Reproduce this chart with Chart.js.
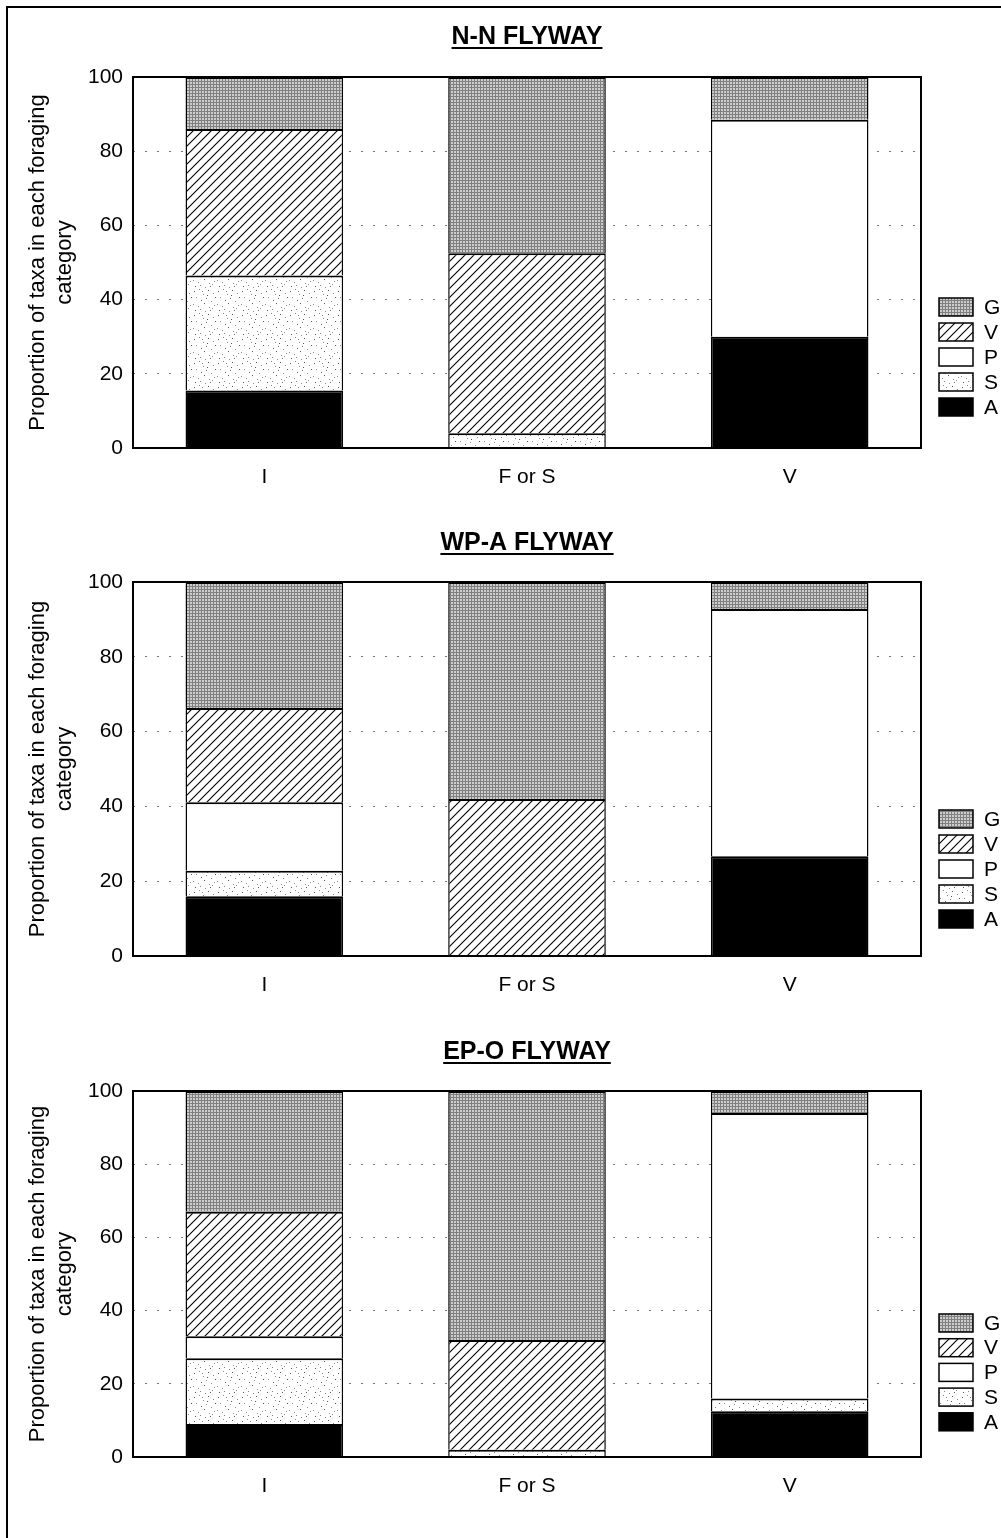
<!DOCTYPE html>
<html>
<head>
<meta charset="utf-8">
<script src="https://cdn.jsdelivr.net/npm/chart.js@4.4.0/dist/chart.umd.min.js"></script>
<style>
  body { margin: 0; background: #fff; }
  #page { position: relative; width: 1001px; height: 1538px; overflow: hidden; }
  #frame { position: absolute; left: 6px; top: 6px; width: 1010px; height: 1560px;
           border-top: 2px solid #000; border-left: 2px solid #000; }
  canvas { position: absolute; left: 0; }
</style>
</head>
<body>
<div id="page">
  <div id="frame"></div>
  <canvas id="nn" width="1001" height="505" style="top:0px"></canvas>
  <canvas id="wpa" width="1001" height="505" style="top:505px"></canvas>
  <canvas id="epo" width="1001" height="528" style="top:1010px"></canvas>
</div>
<script>
// foraging categories on the x axis
var categories = ['I', 'F or S', 'V'];
var yTicks = [0, 20, 40, 60, 80, 100];
var yTitle = ['Proportion of taxa in each foraging', 'category'];
// stacked bottom -> top
var seriesNames = ['A', 'S', 'P', 'V', 'G'];

// N-N flyway (% of taxa)
var nnA = [15.5, 0, 30];
var nnS = [31, 4, 0];
var nnP = [0, 0, 58.5];
var nnV = [39.5, 48.5, 0];
var nnG = [14, 47.5, 11.5];

// WP-A flyway
var wpaA = [16, 0, 26.7];
var wpaS = [6.8, 0, 0];
var wpaP = [18.3, 0, 66.1];
var wpaV = [25.2, 42, 0];
var wpaG = [33.7, 58, 7.2];

// EP-O flyway
var epoA = [9, 0, 12.5];
var epoS = [18, 2, 3.5];
var epoP = [6, 0, 78];
var epoV = [34, 30, 0];
var epoG = [33, 68, 6];

// ---- fill textures ----
function tile(w, h, draw) {
  var c = document.createElement('canvas');
  c.width = w; c.height = h;
  var g = c.getContext('2d');
  draw(g);
  return document.createElement('canvas').getContext('2d').createPattern(c, 'repeat');
}
var gFill = tile(3, 3, function (g) {
  g.fillStyle = '#cdcdcd'; g.fillRect(0, 0, 3, 3);
  g.fillStyle = '#808080'; g.fillRect(0, 0, 3, 1); g.fillRect(0, 0, 1, 3);
});
var vFill = tile(9, 9, function (g) {
  g.fillStyle = '#fff'; g.fillRect(0, 0, 9, 9);
  g.strokeStyle = '#000'; g.lineWidth = 1.1;
  g.beginPath();
  g.moveTo(0, 9); g.lineTo(9, 0);
  g.moveTo(-2, 2); g.lineTo(2, -2);
  g.moveTo(7, 11); g.lineTo(11, 7);
  g.stroke();
});
var speck = [[2,3],[7,1],[11,6],[16,2],[21,5],[4,9],[9,12],[14,10],[19,13],[23,9],[1,16],
             [6,18],[12,15],[17,19],[22,17],[3,22],[8,21],[13,23],[18,22],[10,3],[20,20],[15,7]];
var sFill = tile(24, 24, function (g) {
  g.fillStyle = '#fff'; g.fillRect(0, 0, 24, 24);
  speck.forEach(function (p, i) {
    g.fillStyle = i % 3 ? '#8a8a8a' : '#555';
    g.fillRect(p[0], p[1], 1, 1);
  });
});
var fills = { A: '#000', S: sFill, P: '#fff', V: vFill, G: gFill };

var FONT = '"Liberation Sans", Arial, sans-serif';

// title, frame round the plot, legend
var decor = {
  id: 'decor',
  afterDraw: function (chart, args, o) {
    var ctx = chart.ctx, a = chart.chartArea;
    ctx.save();
    ctx.strokeStyle = '#000';
    ctx.lineWidth = 2;
    ctx.strokeRect(a.left, a.top, a.right - a.left, a.bottom - a.top);

    ctx.fillStyle = '#000';
    ctx.font = 'bold 25px ' + FONT;
    ctx.textAlign = 'center';
    ctx.textBaseline = 'alphabetic';
    var cx = (a.left + a.right) / 2;
    ctx.fillText(o.title, cx, o.titleY);
    var w = ctx.measureText(o.title).width;
    ctx.fillRect(cx - w / 2, o.titleY + 3, w, 2);

    ctx.font = '21px ' + FONT;
    ctx.textAlign = 'left';
    ctx.textBaseline = 'middle';
    ctx.lineWidth = 1.5;
    var ds = chart.data.datasets.slice().reverse();
    ds.forEach(function (d, i) {
      var y = o.legendY + i * o.legendStep;
      ctx.fillStyle = d.backgroundColor;
      ctx.fillRect(939, y - 9, 34, 18);
      ctx.strokeRect(939, y - 9, 34, 18);
      ctx.fillStyle = '#000';
      ctx.fillText(d.label, 984, y + 1);
    });
    ctx.restore();
  }
};

function makeChart(id, title, series, pad, titleY, legendY, legendStep) {
  var datasets = seriesNames.map(function (name, i) {
    return {
      label: name,
      data: series[i],
      backgroundColor: fills[name],
      borderColor: '#000',
      borderWidth: { top: 2, left: 1.5, right: 1.5, bottom: 0 },
      borderSkipped: false,
      categoryPercentage: 1,
      barPercentage: 0.6
    };
  });
  return new Chart(document.getElementById(id), {
    type: 'bar',
    data: { labels: categories, datasets: datasets },
    plugins: [decor],
    options: {
      responsive: false,
      animation: false,
      layout: { padding: { top: pad[0], right: 80, bottom: pad[1], left: 0 } },
      plugins: {
        legend: { display: false },
        tooltip: { enabled: false },
        decor: { title: title, titleY: titleY, legendY: legendY, legendStep: legendStep }
      },
      scales: {
        x: {
          stacked: true,
          grid: { display: false },
          border: { display: false },
          ticks: { color: '#000', padding: 9, font: { family: FONT, size: 21 } },
          afterFit: function (s) { s.height = 40; }
        },
        y: {
          stacked: true,
          min: 0,
          max: 100,
          afterBuildTicks: function (s) { s.ticks = yTicks.map(function (v) { return { value: v }; }); },
          grid: { color: '#7a7a7a', lineWidth: 1, drawTicks: false },
          border: { display: false, dash: [2, 10] },
          ticks: { color: '#000', padding: 10, font: { family: FONT, size: 21 } },
          title: {
            display: true,
            text: yTitle,
            color: '#000',
            padding: { top: 25, bottom: 0 },
            font: { family: FONT, size: 22 }
          },
          afterFit: function (s) { s.width = 133; }
        }
      }
    }
  });
}

makeChart('nn', 'N-N FLYWAY', [nnA, nnS, nnP, nnV, nnG], [77, 17], 44, 307, 25);
makeChart('wpa', 'WP-A FLYWAY', [wpaA, wpaS, wpaP, wpaV, wpaG], [77, 14], 45, 314, 25);
makeChart('epo', 'EP-O FLYWAY', [epoA, epoS, epoP, epoV, epoG], [81, 41], 49, 313, 24.7);
</script>
</body>
</html>
